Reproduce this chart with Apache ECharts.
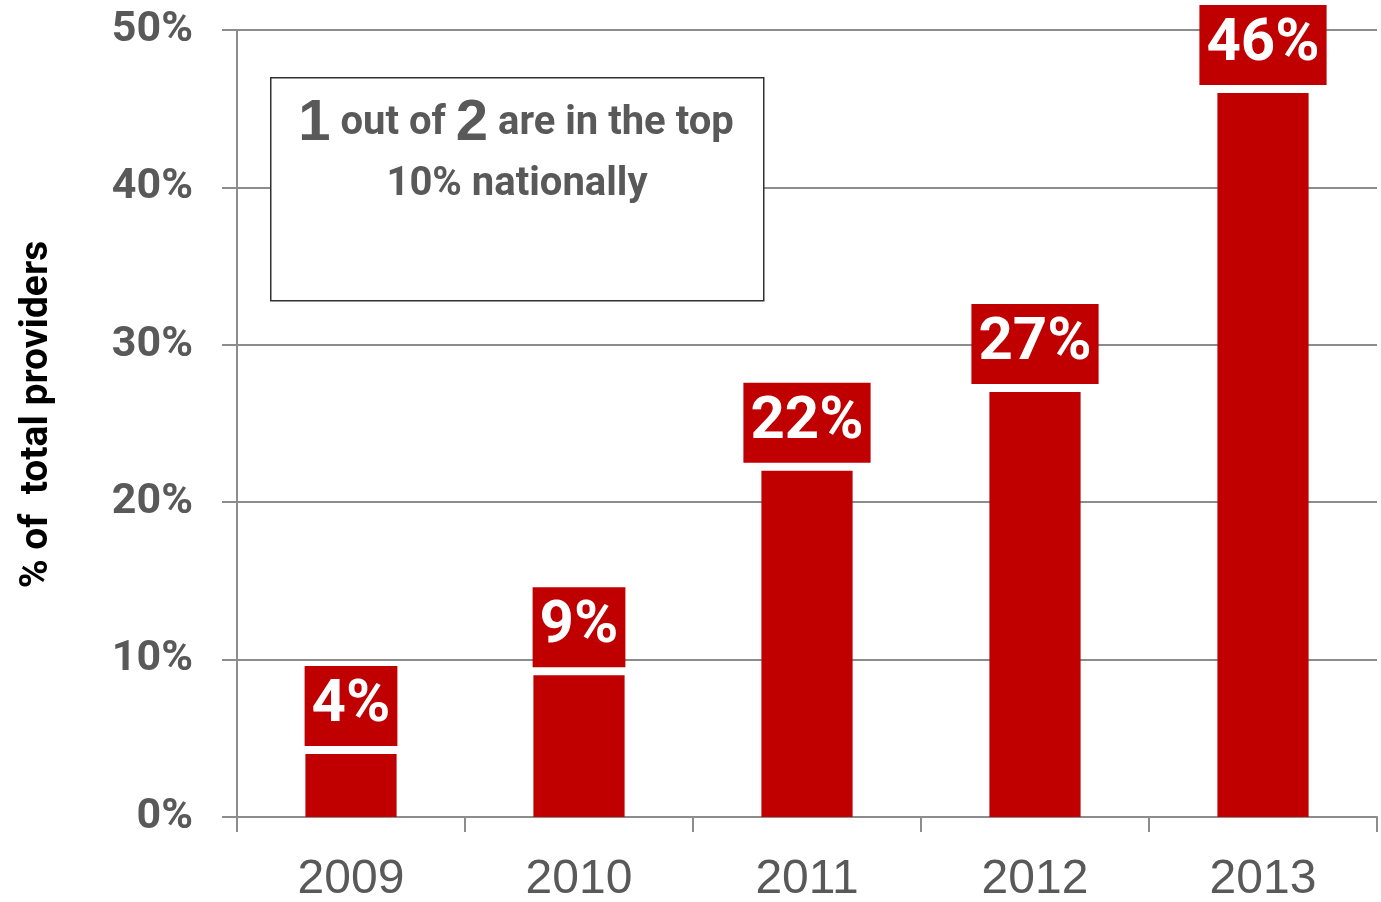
<!DOCTYPE html>
<html>
<head>
<meta charset="utf-8">
<script src="https://cdn.jsdelivr.net/npm/echarts@6/dist/echarts.min.js"></script>
<style>
  html, body { margin: 0; padding: 0; background: #fff; }
  #chart { width: 1381px; height: 902px; }
</style>
</head>
<body>
<div id="chart"></div>
<script>
// chart data
const years = ['2009', '2010', '2011', '2012', '2013'];
const shareTop10 = [4, 9, 22, 27, 46];
const yTicks = [0, 10, 20, 30, 40, 50];

const gray = '#595959';
const lineGray = '#8c8c8c';
const red = '#c00000';
const narrow = 'Roboto';

const chart = echarts.init(document.getElementById('chart'));

chart.setOption({
    animation: false,
    grid: {
        left: 237,
        right: 4,
        top: 30,
        bottom: 85,
        outerBoundsMode: 'none'
    },
    xAxis: {
        type: 'category',
        data: years,
        axisLine: { lineStyle: { color: lineGray, width: 2 } },
        axisTick: { show: true, length: 15, lineStyle: { color: lineGray, width: 2 } },
        axisLabel: {
            margin: 39,
            color: gray,
            fontFamily: 'Liberation Sans',
            fontSize: 48
        }
    },
    yAxis: {
        type: 'value',
        min: yTicks[0],
        max: yTicks[yTicks.length - 1],
        interval: 10,
        name: '% of  total providers',
        nameLocation: 'middle',
        nameGap: 180,
        nameTextStyle: {
            color: '#000',
            fontFamily: narrow,
            fontWeight: 'bold',
            fontSize: 39,
            padding: [0, 0, 0, 18]
        },
        axisLine: { show: true, lineStyle: { color: lineGray, width: 2 } },
        axisTick: { show: true, length: 15, lineStyle: { color: lineGray, width: 2 } },
        splitLine: { lineStyle: { color: lineGray, width: 2 } },
        axisLabel: {
            margin: 44,
            color: gray,
            fontFamily: narrow,
            fontWeight: 'bold',
            fontSize: 43,
            formatter: '{value}%'
        }
    },
    series: [{
        type: 'bar',
        data: shareTop10,
        barWidth: '40%',
        itemStyle: { color: red },
        label: {
            show: true,
            position: 'top',
            distance: 8,
            formatter: '{c}%',
            color: '#fff',
            fontFamily: narrow,
            fontWeight: 'bold',
            fontSize: 60,
            lineHeight: 62,
            backgroundColor: red,
            padding: [9, 7, 9, 7]
        }
    }],
    graphic: [{
        type: 'rect',
        left: 270,
        top: 77,
        shape: { width: 493, height: 223 },
        style: { fill: '#fff', stroke: '#303030', lineWidth: 1.5 },
        z: 10
    }, {
        type: 'text',
        x: 516,
        y: 124,
        z: 11,
        style: {
            text: '{big|1} out of {big|2} are in the top',
            align: 'center',
            verticalAlign: 'middle',
            fill: gray,
            font: 'bold 40px Roboto',
            rich: {
                big: {
                    fontFamily: 'Liberation Sans',
                    fontWeight: 'bold',
                    fontSize: 58,
                    fill: gray
                }
            }
        }
    }, {
        type: 'text',
        x: 517,
        y: 185,
        z: 11,
        style: {
            text: '10% nationally',
            align: 'center',
            verticalAlign: 'middle',
            fill: gray,
            font: 'bold 40px Roboto'
        }
    }]
});
</script>
</body>
</html>
